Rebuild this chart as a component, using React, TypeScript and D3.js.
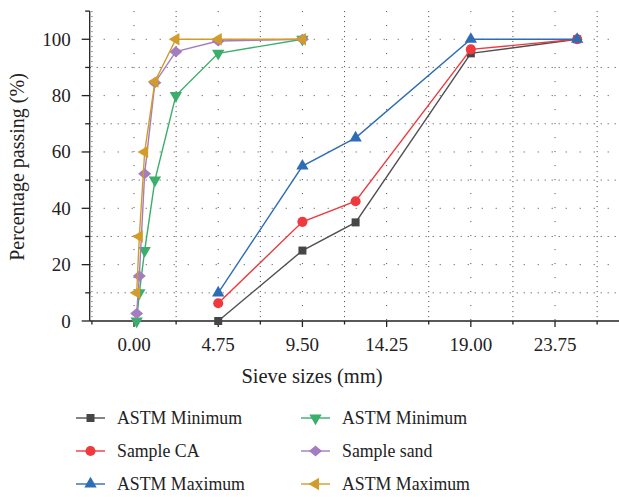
import React from 'react';
import * as d3 from 'd3';

// sieve sizes (mm)
const caSieves = [4.75, 9.5, 12.5, 19.0, 25.0];
const sandSieves = [0.15, 0.3, 0.6, 1.18, 2.36, 4.75, 9.5];

const caMin = [0, 25, 35, 95, 100];
const caSample = [6.3, 35.2, 42.5, 96.4, 100];
const caMax = [10, 55, 65, 100, 100];

const sandMin = [0, 10, 25, 50, 80, 95, 100];
const sandSample = [2.7, 16, 52.3, 84.6, 95.6, 99.4, 100];
const sandMax = [10, 30, 60, 85, 100, 100, 100];

const xTicks = [0, 4.75, 9.5, 14.25, 19.0, 23.75];
const xMinor = [-2.375, 2.375, 7.125, 11.875, 16.625, 21.375, 26.125];
const yTicks = [0, 20, 40, 60, 80, 100];
const yMinor = [10, 30, 50, 70, 90, 110];

type Series = {
  name: string;
  xs: number[];
  ys: number[];
  color: string;
  fill: string;
  shape: 'square' | 'circle' | 'up' | 'down' | 'diamond' | 'left';
};

const series: Series[] = [
  { name: 'ASTM Minimum', xs: caSieves, ys: caMin, color: '#505050', fill: '#464646', shape: 'square' },
  { name: 'Sample CA', xs: caSieves, ys: caSample, color: '#ee3a3f', fill: '#ee3a3f', shape: 'circle' },
  { name: 'ASTM Maximum', xs: caSieves, ys: caMax, color: '#2f6cb6', fill: '#2f6cb6', shape: 'up' },
  { name: 'ASTM Minimum', xs: sandSieves, ys: sandMin, color: '#3aae6a', fill: '#3aae6a', shape: 'down' },
  { name: 'Sample sand', xs: sandSieves, ys: sandSample, color: '#a37dc0', fill: '#a37dc0', shape: 'diamond' },
  { name: 'ASTM Maximum', xs: sandSieves, ys: sandMax, color: '#d29c2c', fill: '#d29c2c', shape: 'left' },
];

const marker = (shape: Series['shape']) => {
  switch (shape) {
    case 'square':
      return { d: d3.symbol(d3.symbolSquare, 64)()!, rot: 0 };
    case 'circle':
      return { d: d3.symbol(d3.symbolCircle, 80)()!, rot: 0 };
    case 'up':
      return { d: d3.symbol(d3.symbolTriangle, 66)()!, rot: 0 };
    case 'down':
      return { d: d3.symbol(d3.symbolTriangle, 66)()!, rot: 180 };
    case 'left':
      return { d: d3.symbol(d3.symbolTriangle, 66)()!, rot: -90 };
    default:
      return { d: 'M0,-5.5L6.5,0L0,5.5L-6.5,0Z', rot: 0 };
  }
};

const App: React.FC = () => {
  const width = 619;
  const height = 497;
  const x = d3.scaleLinear().domain([-2.5, 27.5]).range([89.7, 621.5]);
  const y = d3.scaleLinear().domain([0, 110]).range([321, 11.1]);
  const line = d3.line<[number, number]>().x(d => x(d[0])).y(d => y(d[1]));
  const font = "'Liberation Serif', 'DejaVu Serif', serif";
  const gridColor = '#444';

  return (
    <svg width={width} height={height} style={{ position: 'absolute', left: 0, top: 0, background: '#fff', fontFamily: font }}>
      {/* grid */}
      <g>
        {xMinor.map(v => (
          <line key={'xm' + v} x1={x(v)} x2={x(v)} y1={y(110)} y2={y(0)} stroke={gridColor} strokeWidth={1} strokeDasharray="1,4" />
        ))}
        {xTicks.map(v => (
          <line key={'xj' + v} x1={x(v)} x2={x(v)} y1={y(110)} y2={y(0)} stroke={gridColor} strokeWidth={1} strokeDasharray="1,13" />
        ))}
        {yMinor.filter(v => v < 110).map(v => (
          <line key={'ym' + v} x1={x(-2.5)} x2={width} y1={y(v)} y2={y(v)} stroke={gridColor} strokeWidth={1} strokeDasharray="1,6" />
        ))}
        {yTicks.filter(v => v > 0).map(v => (
          <line key={'yj' + v} x1={x(-2.5)} x2={width} y1={y(v)} y2={y(v)} stroke={gridColor} strokeWidth={1} strokeDasharray="1,13" />
        ))}
      </g>

      {/* axes */}
      <g stroke="#222" strokeWidth={1.3}>
        <line x1={x(-2.5)} x2={width} y1={y(0)} y2={y(0)} />
        <line x1={x(-2.5)} x2={x(-2.5)} y1={y(110)} y2={y(0)} />
        {xTicks.map(v => <line key={'xt' + v} x1={x(v)} x2={x(v)} y1={y(0)} y2={y(0) + 6} />)}
        {xMinor.map(v => <line key={'xmt' + v} x1={x(v)} x2={x(v)} y1={y(0)} y2={y(0) + 3.5} />)}
        {yTicks.map(v => <line key={'yt' + v} x1={x(-2.5) - 8} x2={x(-2.5)} y1={y(v)} y2={y(v)} />)}
        {yMinor.map(v => <line key={'ymt' + v} x1={x(-2.5) - 4.5} x2={x(-2.5)} y1={y(v)} y2={y(v)} />)}
      </g>
      <g fill="#222" style={{ fontFamily: font, fontSize: 19 }}>
        {xTicks.map(v => (
          <text key={'xl' + v} x={x(v)} y={y(0) + 29.5} textAnchor="middle">{v.toFixed(2)}</text>
        ))}
        {yTicks.map(v => (
          <text key={'yl' + v} x={x(-2.5) - 19} y={y(v) + 6.5} textAnchor="end">{v}</text>
        ))}
        <text x={312} y={383} textAnchor="middle" style={{ fontSize: 20.5 }}>Sieve sizes (mm)</text>
        <text transform={`translate(24,167) rotate(-90)`} textAnchor="middle" style={{ fontSize: 20 }}>Percentage passing (%)</text>
      </g>

      {/* series */}
      {series.map((s, i) => {
        const pts = s.xs.map((v, j) => [v, s.ys[j]] as [number, number]);
        const m = marker(s.shape);
        return (
          <g key={'s' + i}>
            <path d={line(pts) || ''} fill="none" stroke={s.color} strokeWidth={1.4} />
            {pts.map((p, j) => (
              <path key={j} d={m.d} fill={s.fill} transform={`translate(${x(p[0])},${y(p[1])}) rotate(${m.rot})`} />
            ))}
          </g>
        );
      })}

      {/* legend */}
      <g fill="#222" style={{ fontFamily: font, fontSize: 17.8 }}>
        {series.map((s, i) => {
          const col = i < 3 ? 0 : 1;
          const row = i % 3;
          const lx = col === 0 ? 76 : 301;
          const ly = 418 + row * 33;
          const m = marker(s.shape);
          return (
            <g key={'l' + i}>
              <line x1={lx} x2={lx + 29} y1={ly} y2={ly} stroke={s.color} strokeWidth={1.4} />
              <path d={m.d} fill={s.fill} transform={`translate(${lx + 14.5},${ly}) rotate(${m.rot})`} />
              <text x={lx + 41} y={ly + 6}>{s.name}</text>
            </g>
          );
        })}
      </g>
    </svg>
  );
};

export default App;
